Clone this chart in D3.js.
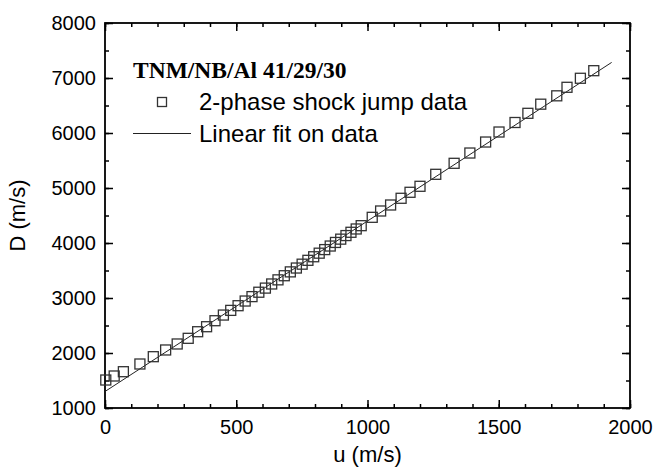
<!DOCTYPE html>
<html lang="en">
    <head>
        <meta charset="utf-8">
        <title>Shock jump D-u</title>
        <script type="text/javascript" src="https://d3js.org/d3.v7.min.js"></script>
        <style type="text/css">
        body { margin: 0; background: #fff; }
        </style>
    </head>
    <body>
        <script type="text/javascript">
        // particle velocity u (m/s) and shock velocity D (m/s)
        var uData = [3, 35, 70, 133, 184, 231, 275, 317, 353, 387, 419,
            451, 479, 507, 534, 560, 586, 611, 635, 659, 683, 706, 729, 751, 773,
            795, 816, 837, 858, 878, 898, 918, 937, 957, 976,
            1018, 1050, 1088, 1128, 1162, 1200, 1260, 1330, 1390, 1450, 1501,
            1562, 1611, 1660, 1721, 1760, 1811, 1862];
        var dData = [1509, 1582, 1660, 1800, 1933, 2055, 2164, 2267, 2387, 2478, 2587,
            2690, 2775, 2860, 2945, 3025, 3105, 3180, 3255, 3330, 3405, 3475, 3545, 3615, 3685,
            3750, 3815, 3880, 3945, 4010, 4070, 4135, 4195, 4255, 4315,
            4467, 4582, 4691, 4813, 4922, 5031, 5249, 5449, 5636, 5836, 6018,
            6191, 6358, 6524, 6676, 6831, 6995, 7133];
        // linear fit end points
        var fitU = [0, 1930];
        var fitD = [1300, 7283];

        var xTicks = [0, 500, 1000, 1500, 2000];
        var yTicks = [1000, 2000, 3000, 4000, 5000, 6000, 7000, 8000];
        var xMinor = d3.range(0, 2001, 100);
        var yMinor = d3.range(1000, 8001, 500);

        var title = "TNM/NB/Al 41/29/30";
        var seriesName = "2-phase shock jump data";
        var fitName = "Linear fit on data";

        var itemWidth = 655;
        var itemHeight = 469;
        var pLeft = 105, pRight = 630, pTop = 23, pBottom = 408;
        var sans = "'Liberation Sans', Arial, sans-serif";

        var svg = d3.select("body")
        .append("svg")
        .attr("width", itemWidth)
        .attr("height", itemHeight);

        var x = d3.scaleLinear().domain([0, 2000]).range([pLeft, pRight]);
        var y = d3.scaleLinear().domain([1000, 8000]).range([pBottom, pTop]);

        function styleAxis(g) {
            g.select(".domain").remove();
            g.selectAll(".tick line").attr("stroke", "#000").attr("stroke-width", 1.5);
            g.selectAll("text").attr("font-size", "20px").attr("font-family", sans).attr("fill", "#000");
        }

        // minor ticks
        svg.append("g").attr("transform", "translate(0," + pBottom + ")")
        .call(d3.axisBottom(x).tickValues(xMinor).tickSize(-4).tickFormat(""))
        .call(styleAxis);
        svg.append("g").attr("transform", "translate(0," + pTop + ")")
        .call(d3.axisTop(x).tickValues(xMinor).tickSize(-4).tickFormat(""))
        .call(styleAxis);
        svg.append("g").attr("transform", "translate(" + pLeft + ",0)")
        .call(d3.axisLeft(y).tickValues(yMinor).tickSize(-4).tickFormat(""))
        .call(styleAxis);
        svg.append("g").attr("transform", "translate(" + pRight + ",0)")
        .call(d3.axisRight(y).tickValues(yMinor).tickSize(-4).tickFormat(""))
        .call(styleAxis);

        // major ticks
        svg.append("g").attr("transform", "translate(0," + pBottom + ")")
        .call(d3.axisBottom(x).tickValues(xTicks).tickSize(-8).tickPadding(12).tickFormat(d3.format("d")))
        .call(styleAxis);
        svg.append("g").attr("transform", "translate(0," + pTop + ")")
        .call(d3.axisTop(x).tickValues(xTicks).tickSize(-8).tickFormat(""))
        .call(styleAxis);
        svg.append("g").attr("transform", "translate(" + pLeft + ",0)")
        .call(d3.axisLeft(y).tickValues(yTicks).tickSize(-8).tickPadding(9).tickFormat(d3.format("d")))
        .call(styleAxis);
        svg.append("g").attr("transform", "translate(" + pRight + ",0)")
        .call(d3.axisRight(y).tickValues(yTicks).tickSize(-8).tickFormat(""))
        .call(styleAxis);

        // frame
        svg.append("rect")
        .attr("x", pLeft).attr("y", pTop)
        .attr("width", pRight - pLeft).attr("height", pBottom - pTop)
        .attr("fill", "none").attr("stroke", "#000").attr("stroke-width", 1.8);

        // fit line
        var line = d3.line()
        .x(function(d) { return x(d[0]); })
        .y(function(d) { return y(d[1]); });
        svg.append("path")
        .datum(d3.zip(fitU, fitD))
        .attr("d", line)
        .attr("fill", "none")
        .attr("stroke", "#222")
        .attr("stroke-width", 1);

        // data squares
        var sz = 10;
        svg.selectAll("rect.pt")
        .data(d3.zip(uData, dData))
        .enter()
        .append("rect")
        .attr("class", "pt")
        .attr("x", function(d) { return x(d[0]) - sz / 2; })
        .attr("y", function(d) { return y(d[1]) - sz / 2; })
        .attr("width", sz)
        .attr("height", sz)
        .attr("fill", "none")
        .attr("stroke", "#333")
        .attr("stroke-width", 1.3);

        // legend
        svg.append("text")
        .attr("x", 133).attr("y", 78)
        .attr("font-family", "'Liberation Serif', 'Times New Roman', serif")
        .attr("font-weight", "bold")
        .attr("font-size", "23.5px")
        .text(title);
        svg.append("rect")
        .attr("x", 162 - 4.5).attr("y", 102 - 4.5)
        .attr("width", 9).attr("height", 9)
        .attr("fill", "none").attr("stroke", "#333").attr("stroke-width", 1.3);
        svg.append("text")
        .attr("x", 199).attr("y", 110)
        .attr("font-family", sans)
        .attr("font-size", "24px")
        .text(seriesName);
        svg.append("line")
        .attr("x1", 133).attr("x2", 191)
        .attr("y1", 133.5).attr("y2", 133.5)
        .attr("stroke", "#222").attr("stroke-width", 1);
        svg.append("text")
        .attr("x", 199).attr("y", 142)
        .attr("font-family", sans)
        .attr("font-size", "24px")
        .text(fitName);

        // axis titles
        svg.append("text")
        .attr("x", (pLeft + pRight) / 2).attr("y", 462)
        .attr("text-anchor", "middle")
        .attr("font-family", sans)
        .attr("font-size", "22px")
        .text("u (m/s)");
        svg.append("text")
        .attr("transform", "translate(25," + ((pTop + pBottom) / 2) + ") rotate(-90)")
        .attr("text-anchor", "middle")
        .attr("font-family", sans)
        .attr("font-size", "22px")
        .text("D (m/s)");
        </script>
    </body>
</html>
